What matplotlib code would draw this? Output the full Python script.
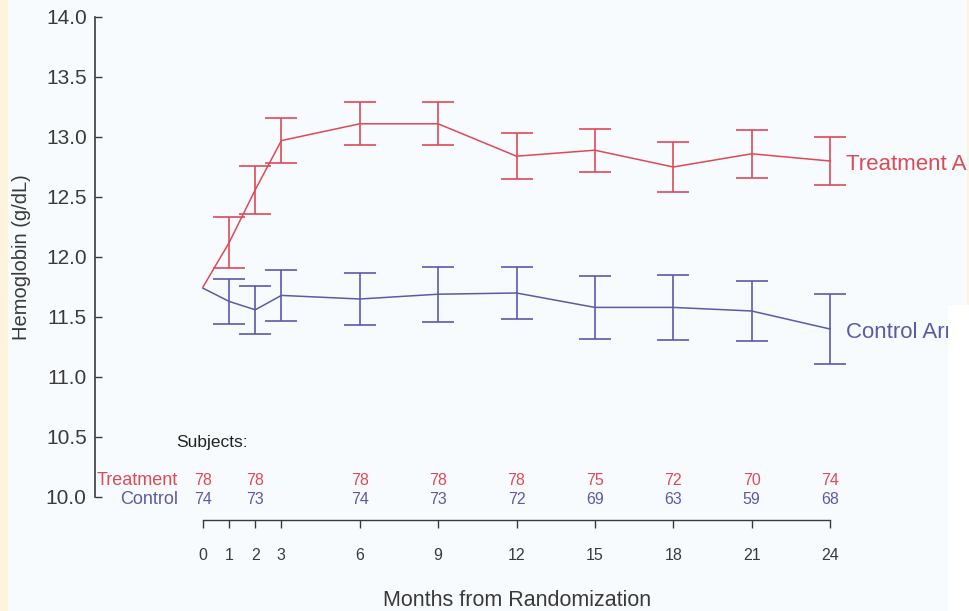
import matplotlib
matplotlib.use('Agg')
import matplotlib.pyplot as plt
from matplotlib.patches import Rectangle

plt.rcParams['font.family'] = ['Liberation Sans', 'DejaVu Sans']

# data
months = [0, 1, 2, 3, 6, 9, 12, 15, 18, 21, 24]
treat_mean = [11.75, 12.12, 12.56, 12.97, 13.11, 13.11, 12.84, 12.89, 12.75, 12.86, 12.80]
treat_err = [0, 0.21, 0.20, 0.19, 0.18, 0.18, 0.19, 0.18, 0.21, 0.20, 0.20]
ctrl_mean = [11.74, 11.63, 11.56, 11.68, 11.65, 11.69, 11.70, 11.58, 11.58, 11.55, 11.40]
ctrl_err = [0, 0.19, 0.20, 0.21, 0.22, 0.23, 0.22, 0.26, 0.27, 0.25, 0.29]

subj_months = [0, 2, 6, 9, 12, 15, 18, 21, 24]
subj_treat = [78, 78, 78, 78, 78, 75, 72, 70, 74]
subj_ctrl = [74, 73, 74, 73, 72, 69, 63, 59, 68]

xticks = [0, 1, 2, 3, 6, 9, 12, 15, 18, 21, 24]
yticks = [10.0, 10.5, 11.0, 11.5, 12.0, 12.5, 13.0, 13.5, 14.0]

red = '#dc4a58'
blue = '#5c5aa6'
dark = '#3a3a3a'

W, H = 970, 611
fig = plt.figure(figsize=(W / 100, H / 100), dpi=100, facecolor='#f8fbfd')

# side strips of the slide
fig.add_artist(Rectangle((0, 0), 8 / W, 1, transform=fig.transFigure, color='#fcf5dc', lw=0))
fig.add_artist(Rectangle((967 / W, (H - 305) / H), 3 / W, 305 / H, transform=fig.transFigure,
                         color='#fcf5dc', lw=0, zorder=5))
fig.add_artist(Rectangle((948 / W, 0), 22 / W, (H - 305) / H, transform=fig.transFigure,
                         color='white', lw=0, zorder=5))

px_per_month = (830 - 203) / 24.0
x_left = -(203 - 95) / px_per_month
x_right = (940 - 203) / px_per_month
ax = fig.add_axes([95 / W, (H - 497) / H, 845 / W, 480 / H])
ax.set_facecolor('none')
ax.set_xlim(x_left, x_right)
ax.set_ylim(10.0, 14.0)

for s in ['top', 'right']:
    ax.spines[s].set_visible(False)
ax.spines['left'].set_color(dark)
ax.spines['left'].set_linewidth(1.2)
ax.spines['bottom'].set_position(('outward', 16.5))
ax.spines['bottom'].set_bounds(0, 24)
ax.spines['bottom'].set_color(dark)
ax.spines['bottom'].set_linewidth(1.0)

ax.set_yticks(yticks)
ax.set_yticklabels(['%.1f' % v for v in yticks])
ax.tick_params(axis='y', direction='in', length=5, width=1, color=dark,
               labelsize=15, labelcolor=dark, pad=6)
ax.set_xticks(xticks)
ax.tick_params(axis='x', direction='out', length=6, width=1, color=dark,
               labelsize=11.5, labelcolor=dark, pad=14)

ax.set_ylabel('Hemoglobin (g/dL)', fontsize=14.5, color=dark, labelpad=11)
ax.set_xlabel('Months from Randomization', fontsize=15.5, color=dark, labelpad=20)

# mean lines
ax.plot(months, treat_mean, color=red, lw=1.1)
ax.plot(months, ctrl_mean, color=blue, lw=1.1)
# error bars (no bar at baseline)
ax.errorbar(months[1:], treat_mean[1:], yerr=treat_err[1:], fmt='none',
            ecolor=red, elinewidth=1.2, capsize=11.5, capthick=1.2)
ax.errorbar(months[1:], ctrl_mean[1:], yerr=ctrl_err[1:], fmt='none',
            ecolor=blue, elinewidth=1.2, capsize=11.5, capthick=1.2)

ax.text(24.6, 12.77, 'Treatment Arm', color=red, fontsize=16,
        ha='left', va='center', clip_on=False)
ax.text(24.6, 11.37, 'Control Arm', color=blue, fontsize=16,
        ha='left', va='center', clip_on=False)

# subjects at risk table
ax.text(-1.03, 10.45, 'Subjects:', fontsize=12.5, color='#222222', ha='left', va='center')
ax.text(-0.95, 10.14, 'Treatment', fontsize=13, color=red, ha='right', va='center')
ax.text(-0.95, 9.975, 'Control', fontsize=13, color=blue, ha='right', va='center', clip_on=False)
for m, nt, nc in zip(subj_months, subj_treat, subj_ctrl):
    ax.text(m, 10.14, str(nt), fontsize=11.5, color=red, ha='center', va='center')
    ax.text(m, 9.975, str(nc), fontsize=11.5, color=blue, ha='center', va='center', clip_on=False)

fig.savefig('out.png', dpi=100, facecolor=fig.get_facecolor())
